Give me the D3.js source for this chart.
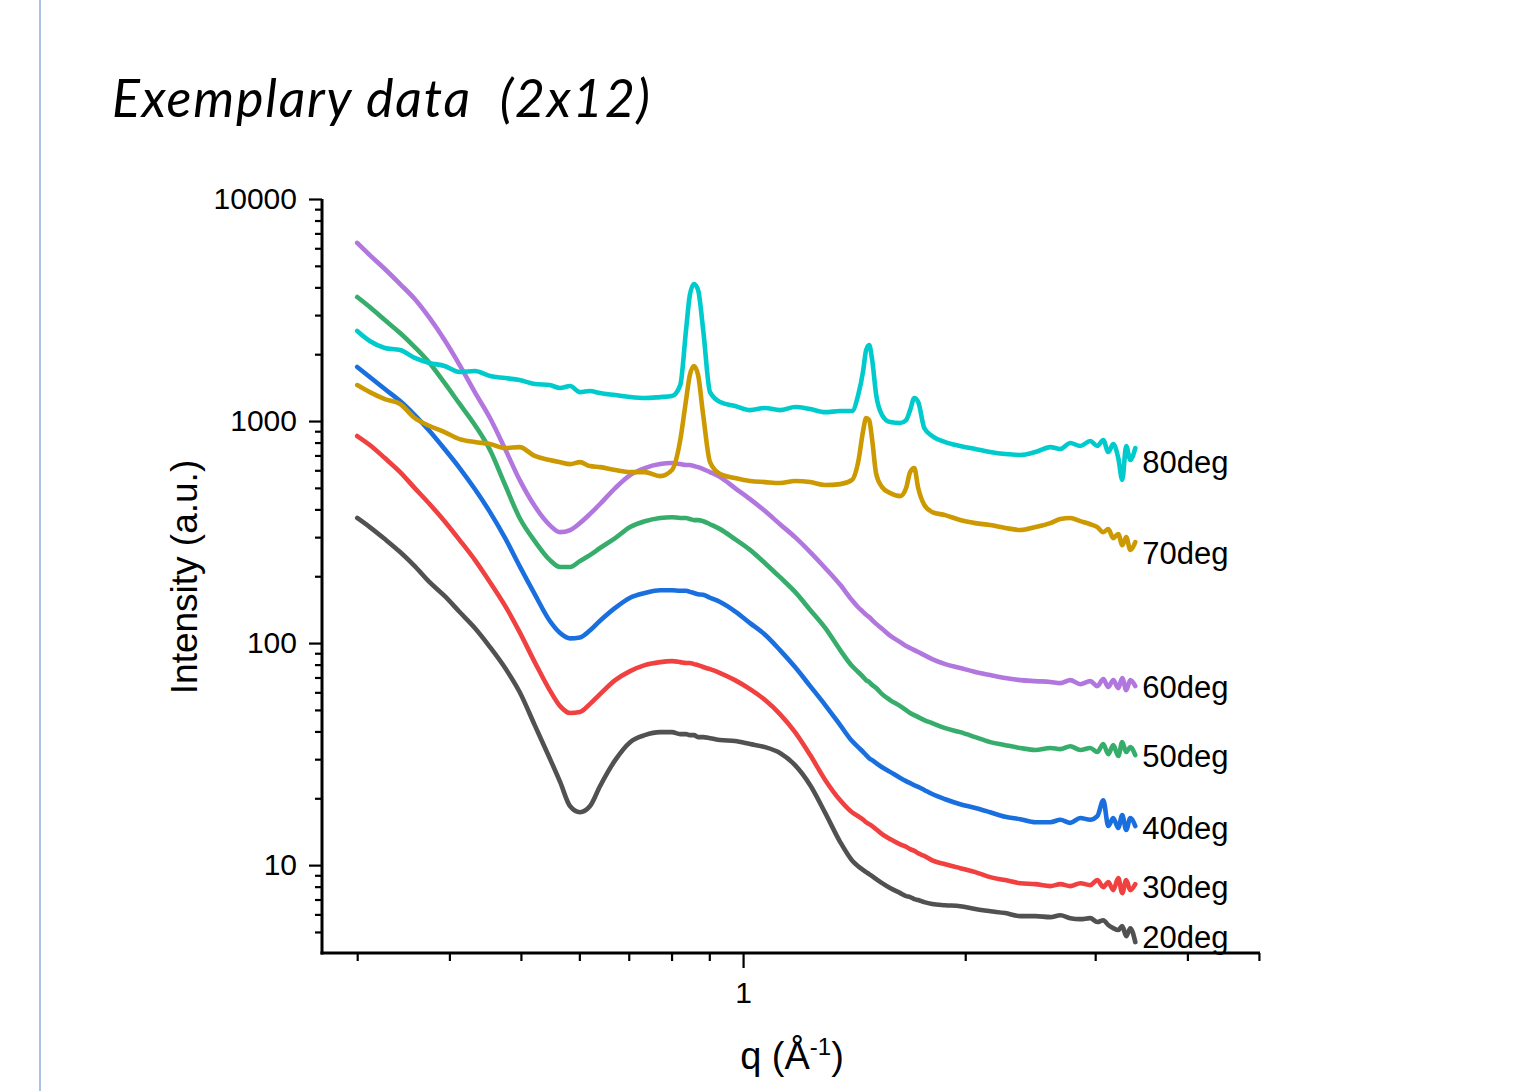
<!DOCTYPE html>
<html>
<head>
<meta charset="utf-8">
<script src="https://cdn.jsdelivr.net/npm/d3@7"></script>
<style>
  html, body { margin: 0; padding: 0; background: #fff; }
  svg { display: block; }
  text { font-family: "Liberation Sans", Arial, sans-serif; fill: #000; }
</style>
</head>
<body>
<div id="chart"></div>
<script>
// scattering vector q (1/Å), shared by all runs
const q = [0.300, 0.312, 0.327, 0.343, 0.359, 0.376, 0.394, 0.413, 0.433, 0.454,
  0.476, 0.498, 0.522, 0.547, 0.565, 0.583, 0.601, 0.620, 0.640, 0.671,
  0.703, 0.736, 0.772, 0.801, 0.822, 0.837, 0.847, 0.858, 0.869, 0.883,
  0.902, 0.931, 0.975, 1.022, 1.071, 1.122, 1.176, 1.233, 1.292, 1.354,
  1.405, 1.432, 1.455, 1.468, 1.482, 1.496, 1.515, 1.543, 1.582, 1.633,
  1.663, 1.684, 1.706, 1.727, 1.760, 1.804, 1.879, 1.969, 2.064, 2.162,
  2.266, 2.375, 2.489, 2.608, 2.691, 2.776, 2.864, 2.954, 3.020, 3.077,
  3.125, 3.174, 3.224, 3.264, 3.305, 3.347, 3.400];

const i20 = [366, 333, 294, 257, 222, 188, 163, 138, 117, 96.0,
  77.2, 60.2, 42.7, 30.3, 23.7, 18.4, 17.3, 18.4, 22.7, 29.7,
  35.8, 38.5, 39.7, 39.7, 38.9, 38.9, 38.5, 38.5, 37.7, 37.7,
  37.3, 36.6, 36.2, 35.1, 34.0, 32.0, 28.2, 22.9, 17.2, 12.7,
  10.5, 9.89, 9.50, 9.30, 9.11, 8.92, 8.65, 8.29, 7.88, 7.48,
  7.25, 7.18, 7.03, 6.96, 6.81, 6.68, 6.60, 6.53, 6.34, 6.20,
  6.08, 5.89, 5.89, 5.83, 5.95, 5.77, 5.71, 5.77, 5.54, 5.65,
  5.37, 5.20, 5.10, 5.31, 4.79, 5.20, 4.50];

const i30 = [856, 780, 681, 589, 499, 423, 354, 291, 237, 188,
  147, 112, 82.1, 61.4, 52.0, 48.4, 48.9, 53.1, 58.9, 68.1,
  74.8, 79.6, 82.1, 82.9, 82.1, 81.3, 81.3, 80.4, 79.6, 78.0,
  76.3, 73.3, 68.1, 62.0, 55.4, 47.9, 39.7, 31.3, 24.2, 19.6,
  17.3, 16.6, 16.0, 15.6, 15.3, 15.0, 14.5, 13.8, 13.1, 12.4,
  12.1, 11.8, 11.6, 11.3, 11.0, 10.5, 10.1, 9.69, 9.30, 8.83,
  8.56, 8.29, 8.21, 8.04, 8.21, 8.04, 8.29, 8.13, 8.56, 7.96,
  8.38, 7.72, 8.74, 7.48, 8.56, 7.72, 8.21];

const i40 = [1751, 1578, 1394, 1230, 1064, 902, 748, 614, 494, 389,
  297, 222, 166, 126, 111, 105, 106, 114, 126, 144,
  160, 168, 173, 173, 172, 172, 170, 168, 166, 165,
  160, 153, 139, 123, 109, 93.0, 78.0, 64.0, 52.6, 42.7,
  36.2, 34.0, 32.3, 31.3, 30.3, 29.7, 28.8, 27.6, 26.3, 24.7,
  23.9, 23.4, 22.9, 22.5, 21.8, 20.9, 19.8, 18.8, 18.1, 17.3,
  16.5, 16.1, 15.6, 15.6, 16.0, 15.5, 16.3, 16.0, 16.6, 19.6,
  15.0, 16.3, 14.7, 16.8, 14.4, 16.3, 15.0];

const i50 = [3618, 3262, 2850, 2492, 2154, 1826, 1484, 1194, 960, 741,
  515, 366, 288, 237, 220, 220, 234, 249, 268, 297,
  333, 354, 366, 369, 366, 366, 362, 358, 358, 354,
  343, 326, 294, 263, 229, 198, 170, 141, 117, 93.0,
  78.8, 74.1, 70.3, 68.1, 66.8, 64.7, 62.7, 58.9, 55.4, 52.0,
  49.9, 48.4, 47.4, 46.4, 45.0, 43.6, 41.4, 39.7, 37.7, 35.8,
  34.7, 33.7, 33.0, 33.7, 33.3, 34.3, 33.0, 33.7, 32.3, 35.1,
  31.6, 34.7, 31.0, 35.8, 32.3, 34.0, 31.3];

const i60 = [6340, 5590, 4840, 4140, 3545, 2912, 2316, 1787, 1350, 1032,
  748, 543, 414, 340, 316, 323, 347, 381, 423, 499,
  571, 614, 640, 647, 640, 634, 634, 627, 620, 608,
  589, 559, 499, 445, 393, 343, 300, 257, 218, 183,
  156, 145, 138, 134, 131, 127, 122, 116, 108, 101,
  96.9, 95.0, 93.0, 91.1, 88.3, 84.7, 80.4, 77.2, 74.1, 71.8,
  69.6, 68.1, 67.4, 66.8, 66.0, 68.1, 65.3, 67.4, 64.0, 68.8,
  63.4, 68.1, 62.7, 69.6, 61.4, 68.1, 64.0];

const i70 = [1452, 1350, 1256, 1194, 1032, 950, 892, 829, 804, 788,
  756, 763, 696, 668, 653, 640, 653, 627, 620, 602,
  589, 589, 565, 602, 821, 1242, 1611, 1769, 1611, 1064,
  653, 577, 554, 537, 531, 526, 537, 531, 515, 520,
  543, 653, 911, 1032, 1010, 821, 577, 504, 474, 459,
  499, 589, 614, 499, 419, 389, 377, 358, 347, 340,
  330, 323, 333, 347, 362, 366, 354, 343, 333, 316,
  326, 297, 310, 276, 300, 263, 285];

const i80 = [2544, 2293, 2133, 2088, 1924, 1826, 1769, 1662, 1680, 1595,
  1562, 1529, 1468, 1452, 1409, 1438, 1350, 1365, 1337, 1309,
  1282, 1269, 1282, 1296, 1452, 2570, 3694, 4141, 3890, 2570,
  1350, 1218, 1169, 1120, 1145, 1120, 1156, 1132, 1097, 1109,
  1109, 1309, 1697, 2088, 2199, 1883, 1309, 1064, 989, 980,
  1010, 1120, 1269, 1218, 930, 856, 804, 772, 748, 725,
  710, 703, 725, 763, 748, 796, 772, 813, 772, 821,
  725, 788, 681, 543, 772, 668, 756];

const seriesNames = ['20deg', '30deg', '40deg', '50deg', '60deg', '70deg', '80deg'];
const seriesValues = [i20, i30, i40, i50, i60, i70, i80];
const seriesColors = ['#515151', '#F14040', '#1A6FDF', '#37AD6B', '#B177DE', '#CC9900', '#00CBCC'];
// intensity level where each end label sits
const labelAt = [4.74, 7.96, 14.7, 31.0, 63.4, 254, 653];

const width = 1521;
const height = 1091;

const svg = d3.select('#chart')
  .append('svg')
  .attr('width', width)
  .attr('height', height);

svg.append('rect')
  .attr('width', width)
  .attr('height', height)
  .attr('fill', '#fff');

// page edge line
svg.append('line')
  .attr('x1', 40).attr('x2', 40)
  .attr('y1', 0).attr('y2', height)
  .attr('stroke', '#7396cf')
  .attr('stroke-width', 1.2);

svg.append('text')
  .attr('x', 112)
  .attr('y', 117)
  .attr('xml:space', 'preserve')
  .attr('textLength', 538)
  .attr('lengthAdjust', 'spacing')
  .style('white-space', 'pre')
  .style('font-family', 'Lato, "Open Sans", sans-serif')
  .style('font-style', 'italic')
  .style('font-size', '52px')
  .text('Exemplary data  (2x12)');

const x = d3.scaleLog().domain([0.2688, 5.017]).range([322, 1260]);
const y = d3.scaleLog().domain([4.02, 10000]).range([953, 199]);

const isDecade = v => Math.abs(Math.log10(v) - Math.round(Math.log10(v))) < 1e-6;

const yTicks = y.ticks();
const xTicks = x.ticks();

// minor ticks
svg.append('g')
  .attr('transform', 'translate(322,0)')
  .call(d3.axisLeft(y).tickValues(yTicks.filter(v => !isDecade(v))).tickSize(7).tickSizeOuter(0).tickFormat(''))
  .call(g => g.select('.domain').remove());

svg.append('g')
  .attr('transform', 'translate(0,953)')
  .call(d3.axisBottom(x).tickValues(xTicks.filter(v => !isDecade(v))).tickSize(8).tickSizeOuter(0).tickFormat(''))
  .call(g => g.select('.domain').remove());

// major ticks with labels
const yAxis = svg.append('g')
  .attr('transform', 'translate(322,0)')
  .call(d3.axisLeft(y).tickValues(yTicks.filter(isDecade)).tickSize(13).tickSizeOuter(0).tickPadding(12).tickFormat(d3.format('d')));

const xAxis = svg.append('g')
  .attr('transform', 'translate(0,953)')
  .call(d3.axisBottom(x).tickValues(xTicks.filter(isDecade)).tickSize(15).tickSizeOuter(0).tickPadding(14).tickFormat(d3.format('d')));

svg.selectAll('.tick line').attr('stroke', '#000').attr('stroke-width', 2.2);
svg.selectAll('.tick text')
  .style('font-family', '"Liberation Sans", Arial, sans-serif')
  .style('font-size', '30px')
  .attr('fill', '#000');

// axis lines drawn over the ticks
svg.append('line')
  .attr('x1', 322).attr('x2', 322)
  .attr('y1', y.range()[1]).attr('y2', y.range()[0] + 1.5)
  .attr('stroke', '#000').attr('stroke-width', 3);
svg.append('line')
  .attr('x1', x.range()[0] - 1.5).attr('x2', x.range()[1])
  .attr('y1', 953).attr('y2', 953)
  .attr('stroke', '#000').attr('stroke-width', 3);
yAxis.select('.domain').remove();
xAxis.select('.domain').remove();

// axis titles
svg.append('text')
  .attr('transform', 'translate(197,577) rotate(-90)')
  .attr('text-anchor', 'middle')
  .style('font-size', '37px')
  .text('Intensity (a.u.)');

const xt = svg.append('text')
  .attr('x', 792)
  .attr('y', 1069)
  .attr('text-anchor', 'middle')
  .style('font-size', '38px');
xt.append('tspan').text('q (Å');
xt.append('tspan').attr('dy', -14).style('font-size', '24px').text('-1');
xt.append('tspan').attr('dy', 14).text(')');

// curves
const line = d3.line()
  .x(d => x(d[0]))
  .y(d => y(d[1]))
  .curve(d3.curveMonotoneX);

const plot = svg.append('g');

seriesValues.forEach((vals, k) => {
  const pts = q.map((v, j) => [v, vals[j]]);
  plot.append('path')
    .datum(pts)
    .attr('d', line)
    .attr('fill', 'none')
    .attr('stroke', seriesColors[k])
    .attr('stroke-width', 4.6)
    .attr('stroke-linejoin', 'round')
    .attr('stroke-linecap', 'round');

  plot.append('text')
    .attr('x', x(q[q.length - 1]) + 7)
    .attr('y', y(labelAt[k]))
    .attr('dy', '0.36em')
    .style('font-size', '31px')
    .text(seriesNames[k]);
});
</script>
</body>
</html>
